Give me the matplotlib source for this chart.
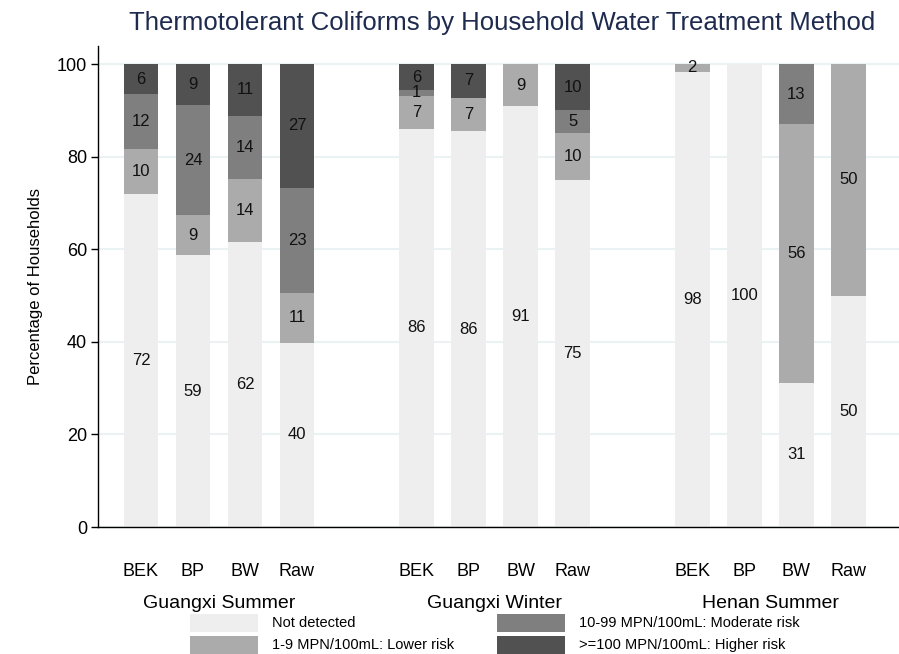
import matplotlib
matplotlib.use("Agg")
import matplotlib.pyplot as plt
import matplotlib.transforms as mtransforms
from matplotlib.patches import Rectangle
import numpy as np

plt.rcParams['font.family'] = ['Liberation Sans', 'DejaVu Sans']

groups = ["Guangxi Summer", "Guangxi Winter", "Henan Summer"]
methods = ["BEK", "BP", "BW", "Raw"]
categories = ["Not detected", "1-9 MPN/100mL: Lower risk",
              "10-99 MPN/100mL: Moderate risk", ">=100 MPN/100mL: Higher risk"]
colors = ["#eeeeee", "#ababab", "#7f7f7f", "#515151"]

# percentages per group (rows: methods BEK, BP, BW, Raw)
not_detected = [71.9, 58.7, 61.6, 39.8,   86.0, 85.5, 90.9, 75.0,   98.3, 100.0, 31.2, 50.0]
lower_risk   = [9.7,  8.7,  13.6, 10.8,   7.1,  7.2,  9.1,  10.0,   1.7,  0.0,   55.8, 50.0]
moderate     = [11.9, 23.7, 13.6, 22.7,   1.3,  0.0,  0.0,  5.0,    0.0,  0.0,   13.0, 0.0]
higher_risk  = [6.5,  8.9,  11.2, 26.7,   5.6,  7.3,  0.0,  10.0,   0.0,  0.0,   0.0,  0.0]

series = [not_detected, lower_risk, moderate, higher_risk]

W, H = 899, 654
fig = plt.figure(figsize=(W / 100, H / 100), dpi=100)
ax = fig.add_axes([98 / W, 1 - 527 / H, 1 - 98 / W, (527 - 46) / H])

group_step = 5.3
xs = np.array([g * group_step + i for g in range(len(groups)) for i in range(len(methods))])
bw = 0.67

bottom = np.zeros(len(xs))
for vals, col, lab in zip(series, colors, categories):
    vals = np.array(vals)
    ax.bar(xs, vals, bottom=bottom, width=bw, color=col, edgecolor='none', label=lab, zorder=2)
    for x, v, b in zip(xs, vals, bottom):
        if v > 0:
            ax.text(x, b + v / 2, f"{v:.0f}", ha='center', va='center', fontsize=12, color='#111111', zorder=3)
    bottom += vals

ax.set_ylim(0, 103.9)
ax.set_xlim(-43 / 52, (899 - 141) / 52)
ax.set_yticks([0, 20, 40, 60, 80, 100])
ax.yaxis.grid(True, color='#eaf2f3', linewidth=1.5, zorder=0)
ax.set_axisbelow(True)
ax.tick_params(axis='y', labelsize=13, length=5, width=1, pad=3)
ax.set_xticks(xs)
ax.set_xticklabels(methods * len(groups), fontsize=13)
ax.tick_params(axis='x', length=0, pad=26)
for s in ['top', 'right']:
    ax.spines[s].set_visible(False)
for s in ['left', 'bottom']:
    ax.spines[s].set_linewidth(1.0)
    ax.spines[s].set_color('black')

ax.set_ylabel("Percentage of Households", fontsize=12, labelpad=10)

trans = mtransforms.blended_transform_factory(ax.transData, ax.transAxes)
for g, name in enumerate(groups):
    cx = g * group_step + (len(methods) - 1) / 2
    ax.text(cx, (527 - 603) / 481, name, transform=trans, ha='center', va='center', fontsize=14)

fig.text(502 / W, 1 - 23 / H, "Thermotolerant Coliforms by Household Water Treatment Method",
         ha='center', va='center', fontsize=18.5, color='#1e2b4f')

# legend (manual layout, 2 columns)
leg_pos = [(190, 623), (190, 645), (497, 623), (497, 645)]
for (px, py), col, lab in zip(leg_pos, colors, categories):
    fig.add_artist(Rectangle((px / W, 1 - (py + 9) / H), 68 / W, 18 / H,
                             transform=fig.transFigure, facecolor=col, edgecolor='none'))
    fig.text((px + 82) / W, 1 - py / H, lab, ha='left', va='center', fontsize=10.5)

fig.savefig("out.png", dpi=100)
